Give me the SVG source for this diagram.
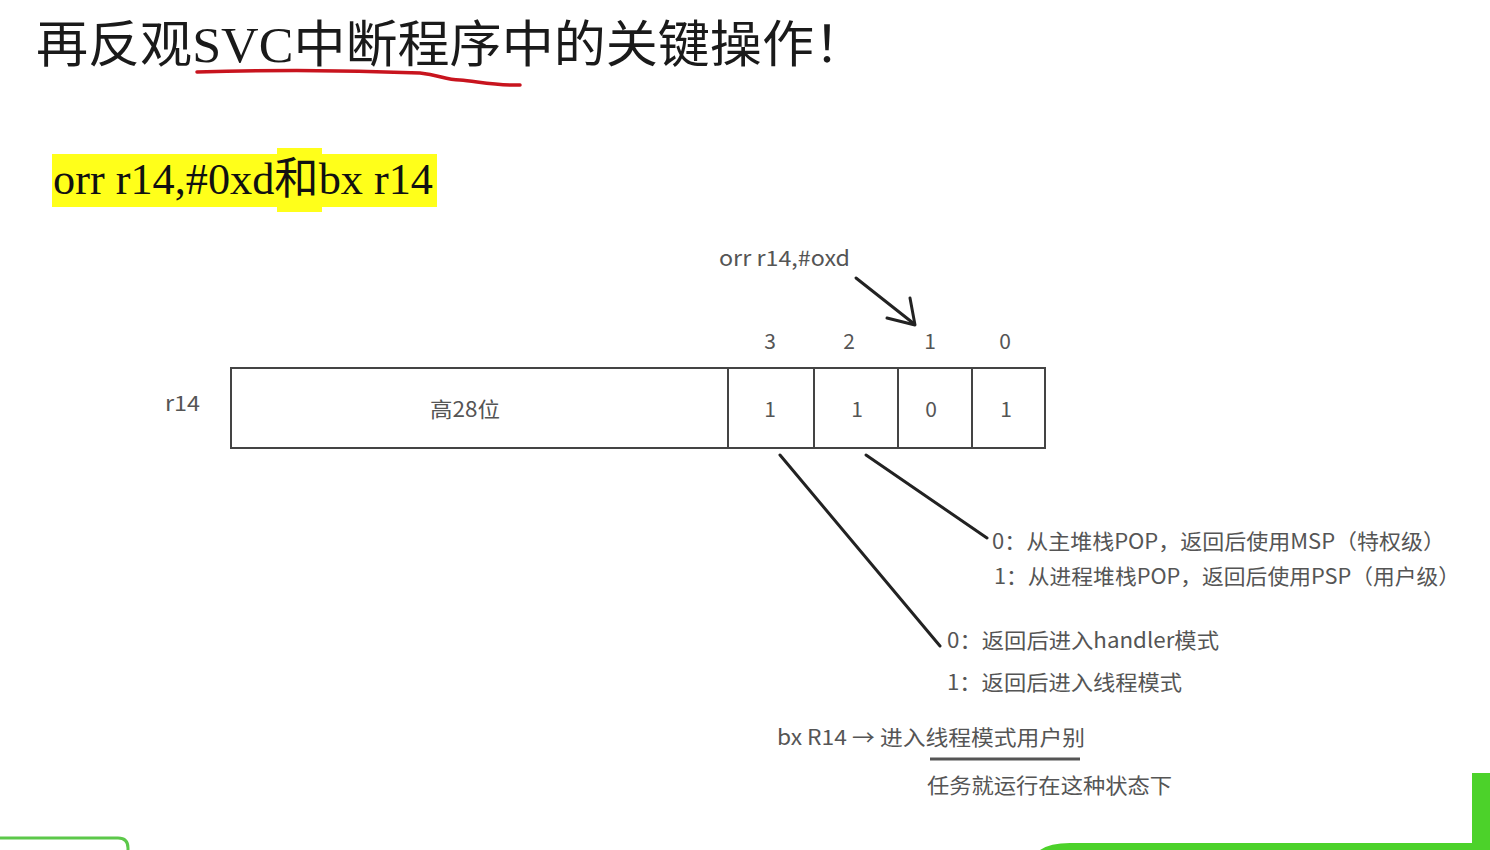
<svg xmlns="http://www.w3.org/2000/svg" width="1490" height="850" viewBox="0 0 1490 850">
<defs>
<style>
.title{font-family:"Liberation Serif","Noto Sans CJK SC",serif;font-size:50px;fill:#1a1a1a}
.code{font-family:"Liberation Serif","Noto Sans CJK SC",serif;font-size:44px;fill:#111}
.lbl{font-family:"Noto Sans CJK SC","Noto Sans",sans-serif;font-size:21px;fill:#555}
.cell{fill:#fff;stroke:#444;stroke-width:2}
.conn{stroke:#222;stroke-width:3;fill:none;stroke-linecap:round}
</style>
</defs>
<rect width="1490" height="850" fill="#fff"/>
<g id="title">
<text class="title" x="36" y="62" textLength="830" lengthAdjust="spacingAndGlyphs">再反观SVC中断程序中的关键操作！</text>
<path d="M197,72 C260,70 350,70 420,73 C440,75 445,80 460,80 C480,82 500,86 520,85" fill="none" stroke="#c8141e" stroke-width="3.5" stroke-linecap="round"/>
</g>
<g id="subtitle">
<rect x="52" y="154" width="385" height="53" fill="#ffff1a"/>
<rect x="277" y="148" width="45" height="64" fill="#ffff1a"/>
<text class="code" x="53" y="194" textLength="380" lengthAdjust="spacingAndGlyphs">orr r14,#0xd和bx r14</text>
</g>
<g id="orr-label">
<text class="lbl" x="719" y="266" textLength="131" lengthAdjust="spacingAndGlyphs">orr r14,#oxd</text>
</g>
<g id="bit-numbers">
<text class="lbl" x="770" y="349" text-anchor="middle">3</text>
<text class="lbl" x="849" y="349" text-anchor="middle">2</text>
<text class="lbl" x="930" y="349" text-anchor="middle">1</text>
<text class="lbl" x="1005" y="349" text-anchor="middle">0</text>
</g>
<g id="r14-register">
<text class="lbl" x="165" y="411" textLength="35" lengthAdjust="spacingAndGlyphs">r14</text>
<rect class="cell" x="231" y="368" width="497" height="80"/>
<rect class="cell" x="728" y="368" width="86" height="80"/>
<rect class="cell" x="814" y="368" width="84" height="80"/>
<rect class="cell" x="898" y="368" width="74" height="80"/>
<rect class="cell" x="972" y="368" width="73" height="80"/>
<text class="lbl" x="430" y="417" textLength="70" lengthAdjust="spacingAndGlyphs">高28位</text>
<text class="lbl" x="770" y="417" text-anchor="middle">1</text>
<text class="lbl" x="857" y="417" text-anchor="middle">1</text>
<text class="lbl" x="931" y="417" text-anchor="middle">0</text>
<text class="lbl" x="1006" y="417" text-anchor="middle">1</text>
</g>
<g id="connectors">
<path class="conn" d="M856,278 L913,323" stroke-width="4.5"/>
<path class="conn" d="M887,318 L915,325 L910,298" stroke-linejoin="round" stroke-width="5"/>
<line class="conn" x1="780" y1="455" x2="940" y2="646"/>
<line class="conn" x1="866" y1="455" x2="987" y2="538"/>
</g>
<g id="bit1-desc">
<text class="lbl" x="992" y="549" textLength="453" lengthAdjust="spacingAndGlyphs">0：从主堆栈POP，返回后使用MSP（特权级）</text>
<text class="lbl" x="994" y="584" textLength="466" lengthAdjust="spacingAndGlyphs">1：从进程堆栈POP，返回后使用PSP（用户级）</text>
</g>
<g id="bit3-desc">
<text class="lbl" x="947" y="648" textLength="272" lengthAdjust="spacingAndGlyphs">0：返回后进入handler模式</text>
<text class="lbl" x="947" y="690" textLength="235" lengthAdjust="spacingAndGlyphs">1：返回后进入线程模式</text>
</g>
<g id="bx-note">
<text class="lbl" x="777" y="745" textLength="308" lengthAdjust="spacingAndGlyphs">bx R14 → 进入线程模式用户别</text>
<line x1="930" y1="759" x2="1080" y2="759" stroke="#555" stroke-width="3"/>
<text class="lbl" x="927" y="793" textLength="245" lengthAdjust="spacingAndGlyphs">任务就运行在这种状态下</text>
</g>
<g id="decor">
<rect x="1472" y="773" width="18" height="77" fill="#4cd22a"/>
<path d="M1040,850 Q1050,843 1070,843 L1490,843 L1490,850 Z" fill="#4cd22a"/>
<path d="M0,838 L118,838 Q128,838 128,848 L128,850" fill="none" stroke="#5cc84a" stroke-width="3"/>
</g>
</svg>
